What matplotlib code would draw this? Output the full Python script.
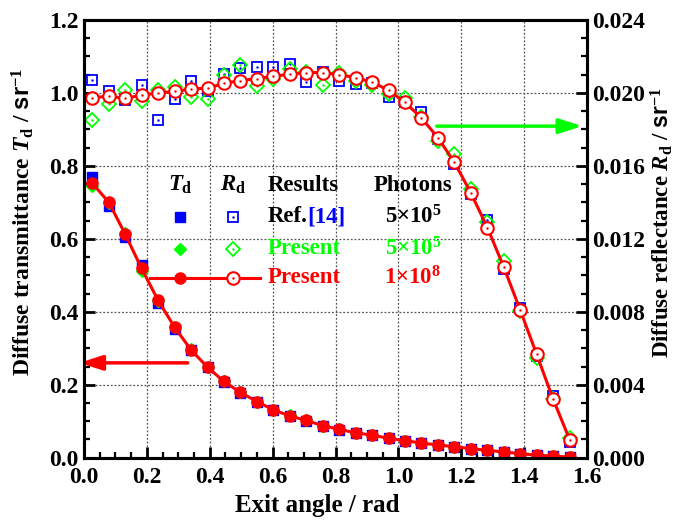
import numpy as np
import matplotlib
matplotlib.use("Agg")
import matplotlib.pyplot as plt
from matplotlib.ticker import MultipleLocator, FormatStrFormatter

plt.rcParams['font.family'] = ['Liberation Serif', 'DejaVu Serif']
plt.rcParams['font.weight'] = 'bold'
plt.rcParams['mathtext.fontset'] = 'custom'
plt.rcParams['mathtext.rm'] = 'Liberation Serif:bold'
plt.rcParams['mathtext.bf'] = 'Liberation Serif:bold'
plt.rcParams['mathtext.it'] = 'Liberation Serif:bold:italic'
plt.rcParams['mathtext.sf'] = 'Liberation Sans:bold'

# exit angle bin centres (30 bins over 0..pi/2)
angle = [0.026, 0.079, 0.131, 0.183, 0.236, 0.288, 0.340, 0.393, 0.445, 0.497,
         0.550, 0.602, 0.654, 0.707, 0.759, 0.812, 0.864, 0.916, 0.969, 1.021,
         1.073, 1.126, 1.178, 1.230, 1.283, 1.335, 1.387, 1.440, 1.492, 1.545]

# diffuse transmittance
td_ref = [0.769, 0.690, 0.604, 0.527, 0.425, 0.353, 0.294, 0.250, 0.208, 0.178,
          0.152, 0.130, 0.114, 0.101, 0.087, 0.077, 0.068, 0.061, 0.053, 0.047,
          0.040, 0.035, 0.030, 0.024, 0.020, 0.016, 0.011, 0.007, 0.004, 0.002]
td_5e5 = [0.745, 0.697, 0.615, 0.512, 0.430, 0.357, 0.297, 0.249, 0.210, 0.179,
          0.154, 0.131, 0.116, 0.102, 0.088, 0.078, 0.068, 0.062, 0.053, 0.047,
          0.040, 0.035, 0.030, 0.025, 0.020, 0.016, 0.011, 0.007, 0.004, 0.002]
td_1e8 = [0.753, 0.700, 0.613, 0.519, 0.431, 0.358, 0.296, 0.248, 0.209, 0.179,
          0.154, 0.131, 0.115, 0.102, 0.088, 0.078, 0.068, 0.062, 0.053, 0.047,
          0.040, 0.035, 0.030, 0.025, 0.020, 0.016, 0.011, 0.007, 0.004, 0.002]

# diffuse reflectance
rd_ref = [0.02070, 0.02010, 0.01962, 0.02046, 0.01854, 0.01968, 0.02068, 0.02008, 0.02106, 0.02136,
          0.02142, 0.02142, 0.02160, 0.02060, 0.02114, 0.02068, 0.02050, 0.02054, 0.01980, 0.01952,
          0.01894, 0.01750, 0.01610, 0.01446, 0.01306, 0.01032, 0.00822, 0.00560, 0.00336, 0.00088]
rd_5e5 = [0.01854, 0.01940, 0.02018, 0.01958, 0.02018, 0.02032, 0.01976, 0.01968, 0.02100, 0.02152,
          0.02036, 0.02078, 0.02134, 0.02114, 0.02046, 0.02110, 0.02068, 0.02046, 0.01996, 0.01970,
          0.01870, 0.01738, 0.01666, 0.01472, 0.01290, 0.01078, 0.00804, 0.00544, 0.00320, 0.00106]
rd_1e8 = [0.01974, 0.01982, 0.01970, 0.01988, 0.02000, 0.02008, 0.02022, 0.02026, 0.02052, 0.02068,
          0.02078, 0.02092, 0.02102, 0.02112, 0.02112, 0.02100, 0.02084, 0.02060, 0.02014, 0.01948,
          0.01864, 0.01754, 0.01620, 0.01454, 0.01262, 0.01046, 0.00812, 0.00566, 0.00322, 0.00098]

blue = '#0000ff'
green = '#00ff00'
red = '#ff0000'

fig = plt.figure(figsize=(6.84, 5.22), dpi=100)
ax = fig.add_axes([0.1228, 0.1232, 0.7354, 0.8385])
ax2 = ax.twinx()

# transmittance (left axis)
ax.plot(angle, td_ref, 's', color=blue, ms=7, zorder=3)
ax.plot(angle, td_5e5, 'D', color=green, ms=6, zorder=3)
ax.plot(angle, td_1e8, '-o', color=red, lw=2.2, ms=8, zorder=4)

# reflectance (right axis)
ax2.plot(angle, rd_ref, 's', mfc='none', mec=blue, mew=1.3, ms=7.5)
ax2.plot(angle, rd_ref, '.', color=blue, ms=1.5)
ax2.plot(angle, rd_5e5, 'D', mfc='none', mec=green, mew=1.3, ms=7.5)
ax2.plot(angle, rd_5e5, '.', color=green, ms=1.5)
ax2.plot(angle, rd_1e8, '-o', color=red, mfc='white', mec=red, mew=1.5, lw=2.2, ms=9)
ax2.plot(angle, rd_1e8, '.', color=red, ms=1.5)

ax.set_xlim(0, 1.6)
ax.set_ylim(0, 1.2)
ax2.set_ylim(0, 0.024)

ax.xaxis.set_major_locator(MultipleLocator(0.2))
ax.xaxis.set_minor_locator(MultipleLocator(0.05))
ax.yaxis.set_major_locator(MultipleLocator(0.2))
ax.yaxis.set_minor_locator(MultipleLocator(0.05))
ax2.yaxis.set_major_locator(MultipleLocator(0.004))
ax2.yaxis.set_minor_locator(MultipleLocator(0.001))
ax.xaxis.set_major_formatter(FormatStrFormatter('%.1f'))
ax.yaxis.set_major_formatter(FormatStrFormatter('%.1f'))
ax2.yaxis.set_major_formatter(FormatStrFormatter('%.3f'))

for a in (ax, ax2):
    a.tick_params(which='major', direction='in', length=8, width=2, labelsize=17, pad=4)
    a.tick_params(which='minor', direction='in', length=4.5, width=1.6)
    for s in a.spines.values():
        s.set_linewidth(2.2)
ax.tick_params(axis='y', which='both', right=False)
ax.tick_params(axis='x', which='both', top=False)
ax.tick_params(axis='x', which='major', pad=7)
ax2.tick_params(axis='x', which='both', top=False, bottom=False)

ax.grid(True, which='major', ls=(0, (1.5, 1.5)), color='#555555', lw=0.9)
ax.set_axisbelow(True)

ax.set_xlabel('Exit angle / rad', fontsize=18, fontweight='bold')
ax.xaxis.set_label_coords(0.464, -0.082)
ax.set_ylabel(r'Diffuse transmittance $\mathit{T}_\mathrm{d}$ / $\mathsf{sr}^{-1}$',
              fontsize=17, fontweight='bold')
ax.yaxis.set_label_coords(-0.095, 0.538)
ax2.set_ylabel(r'Diffuse reflectance $\mathit{R}_\mathrm{d}$ / $\mathsf{sr}^{-1}$',
               fontsize=16.5, fontweight='bold')
ax2.yaxis.set_label_coords(1.122, 0.538)

# arrows pointing to each axis
ax.annotate('', xy=(-0.015, 0.26), xytext=(0.33, 0.26), annotation_clip=False,
            arrowprops=dict(arrowstyle='-|>,head_length=1.4,head_width=0.45',
                            color=red, lw=2.5, shrinkA=0, shrinkB=0))
ax.annotate('', xy=(1.585, 0.909), xytext=(1.122, 0.909), annotation_clip=False,
            arrowprops=dict(arrowstyle='-|>,head_length=1.4,head_width=0.45',
                            color=green, lw=2.5, shrinkA=0, shrinkB=0))

# custom legend table
tr = ax.transAxes
fs = 16.5
ax.text(0.191, 0.623, r'$\mathit{T}_\mathrm{d}$', transform=tr, ha='center', va='center', fontsize=fs)
ax.text(0.296, 0.623, r'$\mathit{R}_\mathrm{d}$', transform=tr, ha='center', va='center', fontsize=fs)
ax.text(0.366, 0.623, 'Results', transform=tr, ha='left', va='center', fontsize=fs)
ax.text(0.654, 0.623, 'Photons', transform=tr, ha='center', va='center', fontsize=fs)

ax.plot([0.191], [0.551], 's', color=blue, ms=7, transform=tr, clip_on=False)
ax.plot([0.296], [0.551], 's', mfc='none', mec=blue, mew=1.3, ms=7.5, transform=tr)
ax.plot([0.296], [0.551], '.', color=blue, ms=1.5, transform=tr)
ax.text(0.366, 0.551, 'Ref.', transform=tr, ha='left', va='center', fontsize=fs)
ax.text(0.443, 0.551, '[14]', transform=tr, ha='left', va='center', fontsize=fs, color=blue)
ax.text(0.654, 0.551, r'$5{\times}10^{5}$', transform=tr, ha='center', va='center', fontsize=fs)

ax.plot([0.191], [0.477], 'D', color=green, ms=6, transform=tr)
ax.plot([0.296], [0.477], 'D', mfc='none', mec=green, mew=1.3, ms=7.5, transform=tr)
ax.plot([0.296], [0.477], '.', color=green, ms=1.5, transform=tr)
ax.text(0.366, 0.477, 'Present', transform=tr, ha='left', va='center', fontsize=fs, color=green)
ax.text(0.654, 0.477, r'$5{\times}10^{5}$', transform=tr, ha='center', va='center', fontsize=fs, color=green)

ax.plot([0.131, 0.241], [0.411, 0.411], '-', color=red, lw=2.2, transform=tr)
ax.plot([0.191], [0.411], 'o', color=red, ms=8, transform=tr)
ax.plot([0.247, 0.350], [0.411, 0.411], '-', color=red, lw=2.2, transform=tr)
ax.plot([0.296], [0.411], 'o', mfc='white', mec=red, mew=1.5, ms=9, transform=tr)
ax.plot([0.296], [0.411], '.', color=red, ms=1.5, transform=tr)
ax.text(0.366, 0.411, 'Present', transform=tr, ha='left', va='center', fontsize=fs, color=red)
ax.text(0.654, 0.411, r'$1{\times}10^{8}$', transform=tr, ha='center', va='center', fontsize=fs, color=red)

fig.savefig('out.png', dpi=100)
